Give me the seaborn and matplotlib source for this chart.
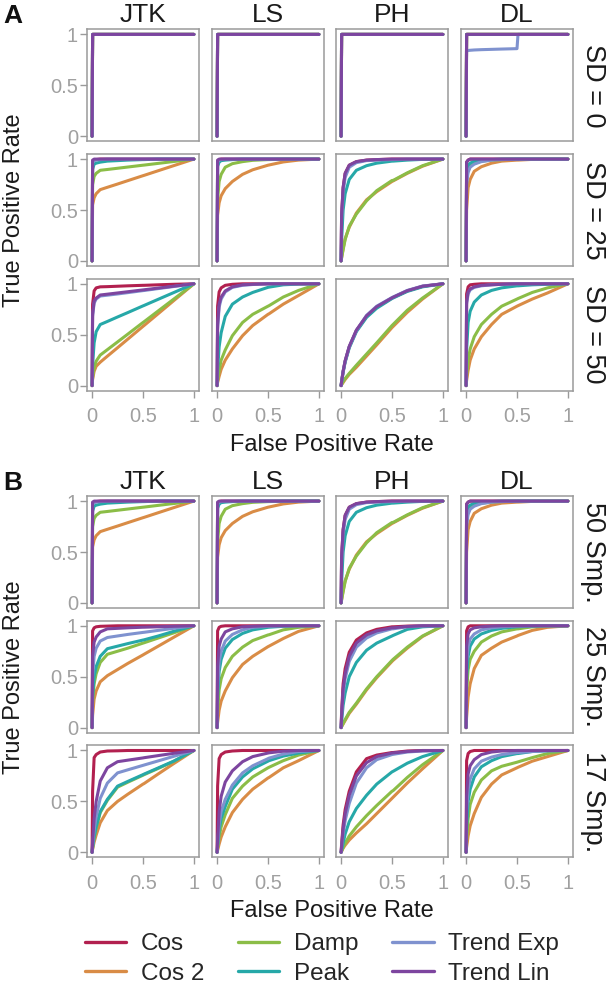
import numpy as np
import pandas as pd
import matplotlib
matplotlib.use('Agg')
import matplotlib.pyplot as plt
from matplotlib.lines import Line2D
import seaborn as sns

# methods (columns) and curve types (colours)
methods = ['JTK', 'LS', 'PH', 'DL']
series = ['Cos', 'Cos 2', 'Damp', 'Peak', 'Trend Exp', 'Trend Lin']
colors = ['#B2204F', '#D98C46', '#8BBD47', '#26A8A8', '#7F92CF', '#7D459F']

fpr = [0, 0.005, 0.02, 0.04, 0.08, 0.15, 0.25, 0.35, 0.5, 0.51, 0.65, 0.8, 1.0]
P = [0, 1, 1, 1, 1, 1, 1, 1, 1, 1, 1, 1, 1]  # perfect curve

# true positive rates, per method, in the order of `series`
tpr_sd0 = {
    'JTK': [P, P, P, P, P, P],
    'LS': [P, P, P, P, P, P],
    'PH': [P, P, P, P, P, P],
    'DL': [P, P, P, P,
           [0, 0.84, 0.842, 0.844, 0.847, 0.85, 0.853, 0.856, 0.86, 1, 1, 1, 1],
           P],
}

tpr_sd25 = {
    'JTK': [[0, 0.98, 0.99, 0.995, 1, 1, 1, 1, 1, 1, 1, 1, 1],
            [0, 0.55, 0.62, 0.66, 0.70, 0.723, 0.755, 0.788, 0.837, 0.84, 0.886, 0.935, 1],
            [0, 0.75, 0.83, 0.86, 0.89, 0.898, 0.91, 0.922, 0.94, 0.941, 0.958, 0.976, 1],
            [0, 0.9, 0.95, 0.96, 0.97, 0.98, 0.985, 0.99, 0.995, 0.995, 1, 1, 1],
            [0, 0.97, 0.985, 0.99, 0.995, 1, 1, 1, 1, 1, 1, 1, 1],
            [0, 0.99, 1, 1, 1, 1, 1, 1, 1, 1, 1, 1, 1]],
    'LS': [[0, 0.98, 0.995, 1, 1, 1, 1, 1, 1, 1, 1, 1, 1],
           [0, 0.45, 0.57, 0.64, 0.71, 0.78, 0.85, 0.895, 0.94, 0.942, 0.972, 0.99, 1],
           [0, 0.6, 0.78, 0.85, 0.92, 0.955, 0.975, 0.988, 0.995, 0.995, 1, 1, 1],
           [0, 0.93, 0.97, 0.985, 0.99, 0.995, 1, 1, 1, 1, 1, 1, 1],
           [0, 0.97, 0.99, 0.995, 1, 1, 1, 1, 1, 1, 1, 1, 1],
           [0, 0.99, 1, 1, 1, 1, 1, 1, 1, 1, 1, 1, 1]],
    'PH': [[0, 0.45, 0.72, 0.86, 0.94, 0.975, 0.99, 0.995, 1, 1, 1, 1, 1],
           [0, 0.03, 0.12, 0.22, 0.33, 0.47, 0.6, 0.68, 0.78, 0.785, 0.86, 0.93, 1],
           [0, 0.03, 0.11, 0.21, 0.34, 0.46, 0.59, 0.69, 0.79, 0.79, 0.865, 0.935, 1],
           [0, 0.2, 0.5, 0.66, 0.8, 0.89, 0.935, 0.96, 0.98, 0.98, 0.99, 0.997, 1],
           [0, 0.4, 0.68, 0.82, 0.92, 0.965, 0.985, 0.99, 0.995, 0.995, 1, 1, 1],
           [0, 0.45, 0.72, 0.86, 0.94, 0.975, 0.99, 0.995, 1, 1, 1, 1, 1]],
    'DL': [[0, 0.97, 0.99, 1, 1, 1, 1, 1, 1, 1, 1, 1, 1],
           [0, 0.5, 0.72, 0.8, 0.88, 0.925, 0.96, 0.98, 0.99, 0.99, 0.997, 1, 1],
           [0, 0.8, 0.9, 0.93, 0.96, 0.98, 0.99, 0.995, 1, 1, 1, 1, 1],
           [0, 0.88, 0.94, 0.96, 0.98, 0.99, 0.995, 1, 1, 1, 1, 1, 1],
           [0, 0.75, 0.87, 0.92, 0.95, 0.975, 0.99, 0.995, 1, 1, 1, 1, 1],
           [0, 0.97, 0.99, 1, 1, 1, 1, 1, 1, 1, 1, 1, 1]],
}

tpr_sd50 = {
    'JTK': [[0, 0.8, 0.93, 0.96, 0.97, 0.972, 0.976, 0.98, 0.985, 0.985, 0.99, 0.995, 1],
            [0, 0.06, 0.14, 0.19, 0.23, 0.289, 0.372, 0.456, 0.582, 0.59, 0.707, 0.833, 1],
            [0, 0.08, 0.18, 0.24, 0.3, 0.353, 0.429, 0.505, 0.62, 0.627, 0.734, 0.848, 1],
            [0, 0.2, 0.42, 0.53, 0.6, 0.63, 0.674, 0.717, 0.783, 0.787, 0.848, 0.913, 1],
            [0, 0.68, 0.81, 0.85, 0.88, 0.888, 0.9, 0.913, 0.933, 0.934, 0.953, 0.973, 1],
            [0, 0.7, 0.83, 0.86, 0.89, 0.898, 0.91, 0.922, 0.94, 0.941, 0.958, 0.976, 1]],
    'LS': [[0, 0.78, 0.92, 0.96, 0.985, 0.995, 1, 1, 1, 1, 1, 1, 1],
           [0, 0.03, 0.09, 0.16, 0.25, 0.36, 0.49, 0.59, 0.7, 0.705, 0.8, 0.885, 1],
           [0, 0.05, 0.15, 0.25, 0.35, 0.49, 0.62, 0.7, 0.78, 0.785, 0.87, 0.935, 1],
           [0, 0.15, 0.38, 0.52, 0.68, 0.8, 0.87, 0.915, 0.965, 0.967, 0.99, 0.997, 1],
           [0, 0.55, 0.77, 0.85, 0.92, 0.965, 0.985, 0.993, 1, 1, 1, 1, 1],
           [0, 0.6, 0.8, 0.87, 0.93, 0.97, 0.99, 0.995, 1, 1, 1, 1, 1]],
    'PH': [[0, 0.04, 0.14, 0.24, 0.38, 0.54, 0.68, 0.77, 0.86, 0.865, 0.93, 0.975, 1],
           [0, 0.01, 0.03, 0.06, 0.11, 0.18, 0.29, 0.4, 0.57, 0.58, 0.72, 0.85, 1],
           [0, 0.01, 0.04, 0.07, 0.12, 0.2, 0.31, 0.42, 0.59, 0.6, 0.74, 0.86, 1],
           [0, 0.035, 0.13, 0.23, 0.37, 0.53, 0.67, 0.76, 0.855, 0.86, 0.925, 0.97, 1],
           [0, 0.04, 0.14, 0.24, 0.38, 0.54, 0.69, 0.78, 0.865, 0.87, 0.935, 0.978, 1],
           [0, 0.04, 0.14, 0.245, 0.385, 0.545, 0.685, 0.775, 0.862, 0.867, 0.932, 0.976, 1]],
    'DL': [[0, 0.9, 0.97, 0.99, 0.995, 1, 1, 1, 1, 1, 1, 1, 1],
           [0, 0.05, 0.15, 0.25, 0.36, 0.48, 0.6, 0.7, 0.78, 0.785, 0.85, 0.91, 1],
           [0, 0.1, 0.25, 0.36, 0.48, 0.6, 0.7, 0.78, 0.85, 0.855, 0.915, 0.96, 1],
           [0, 0.35, 0.62, 0.73, 0.82, 0.89, 0.935, 0.96, 0.98, 0.98, 0.99, 0.995, 1],
           [0, 0.8, 0.9, 0.94, 0.965, 0.98, 0.99, 0.995, 1, 1, 1, 1, 1],
           [0, 0.82, 0.92, 0.95, 0.97, 0.985, 0.99, 0.995, 1, 1, 1, 1, 1]],
}

# 50 samples looks the same as SD = 25 in the figure
tpr_smp50 = tpr_sd25

tpr_smp25 = {
    'JTK': [[0, 0.95, 0.98, 0.99, 0.995, 0.997, 1, 1, 1, 1, 1, 1, 1],
            [0, 0.12, 0.28, 0.36, 0.45, 0.51, 0.57, 0.63, 0.714, 0.72, 0.8, 0.886, 1],
            [0, 0.25, 0.43, 0.53, 0.64, 0.72, 0.75, 0.78, 0.83, 0.833, 0.88, 0.93, 1],
            [0, 0.3, 0.5, 0.6, 0.7, 0.775, 0.8, 0.825, 0.86, 0.862, 0.9, 0.945, 1],
            [0, 0.5, 0.7, 0.78, 0.85, 0.885, 0.9, 0.915, 0.935, 0.936, 0.955, 0.975, 1],
            [0, 0.7, 0.84, 0.89, 0.94, 0.97, 0.975, 0.98, 0.986, 0.986, 0.99, 0.995, 1]],
    'LS': [[0, 0.95, 0.985, 0.995, 1, 1, 1, 1, 1, 1, 1, 1, 1],
           [0, 0.05, 0.17, 0.26, 0.36, 0.49, 0.62, 0.7, 0.795, 0.8, 0.875, 0.945, 1],
           [0, 0.15, 0.37, 0.48, 0.59, 0.7, 0.79, 0.855, 0.91, 0.912, 0.96, 0.985, 1],
           [0, 0.3, 0.55, 0.67, 0.78, 0.865, 0.925, 0.96, 0.985, 0.986, 0.995, 1, 1],
           [0, 0.4, 0.65, 0.75, 0.85, 0.915, 0.96, 0.985, 0.995, 0.995, 1, 1, 1],
           [0, 0.6, 0.8, 0.87, 0.94, 0.97, 0.99, 0.995, 1, 1, 1, 1, 1]],
    'PH': [[0, 0.15, 0.43, 0.58, 0.74, 0.86, 0.93, 0.965, 0.99, 0.99, 0.997, 1, 1],
           [0, 0.01, 0.035, 0.07, 0.14, 0.23, 0.37, 0.49, 0.65, 0.66, 0.78, 0.895, 1],
           [0, 0.01, 0.04, 0.08, 0.15, 0.24, 0.38, 0.5, 0.66, 0.67, 0.79, 0.9, 1],
           [0, 0.06, 0.22, 0.34, 0.5, 0.64, 0.76, 0.83, 0.9, 0.905, 0.965, 0.99, 1],
           [0, 0.1, 0.33, 0.48, 0.65, 0.79, 0.88, 0.93, 0.97, 0.97, 0.99, 0.998, 1],
           [0, 0.12, 0.38, 0.53, 0.7, 0.83, 0.91, 0.95, 0.98, 0.98, 0.993, 1, 1]],
    'DL': [[0, 0.95, 0.99, 1, 1, 1, 1, 1, 1, 1, 1, 1, 1],
           [0, 0.1, 0.3, 0.43, 0.58, 0.71, 0.78, 0.84, 0.9, 0.905, 0.955, 0.985, 1],
           [0, 0.35, 0.57, 0.67, 0.75, 0.84, 0.9, 0.94, 0.97, 0.97, 0.99, 0.997, 1],
           [0, 0.5, 0.7, 0.8, 0.87, 0.92, 0.955, 0.975, 0.99, 0.99, 0.997, 1, 1],
           [0, 0.65, 0.8, 0.87, 0.92, 0.96, 0.98, 0.99, 0.997, 0.997, 1, 1, 1],
           [0, 0.8, 0.92, 0.96, 0.98, 0.99, 0.997, 1, 1, 1, 1, 1, 1]],
}

tpr_smp17 = {
    'JTK': [[0, 0.6, 0.93, 0.96, 0.985, 0.995, 0.997, 1, 1, 1, 1, 1, 1],
            [0, 0.03, 0.1, 0.17, 0.29, 0.41, 0.5, 0.57, 0.67, 0.675, 0.77, 0.87, 1],
            [0, 0.04, 0.14, 0.24, 0.39, 0.51, 0.64, 0.688, 0.757, 0.762, 0.824, 0.892, 1],
            [0, 0.05, 0.15, 0.25, 0.4, 0.52, 0.65, 0.696, 0.763, 0.768, 0.829, 0.895, 1],
            [0, 0.07, 0.22, 0.35, 0.53, 0.68, 0.78, 0.81, 0.854, 0.857, 0.898, 0.942, 1],
            [0, 0.1, 0.33, 0.5, 0.7, 0.83, 0.89, 0.905, 0.927, 0.929, 0.95, 0.972, 1]],
    'LS': [[0, 0.65, 0.92, 0.96, 0.985, 0.995, 1, 1, 1, 1, 1, 1, 1],
           [0, 0.02, 0.08, 0.15, 0.25, 0.39, 0.52, 0.62, 0.73, 0.735, 0.83, 0.9, 1],
           [0, 0.04, 0.15, 0.25, 0.37, 0.53, 0.65, 0.74, 0.83, 0.835, 0.9, 0.955, 1],
           [0, 0.06, 0.22, 0.33, 0.45, 0.62, 0.74, 0.82, 0.895, 0.9, 0.945, 0.975, 1],
           [0, 0.08, 0.28, 0.4, 0.52, 0.66, 0.78, 0.85, 0.92, 0.925, 0.965, 0.99, 1],
           [0, 0.12, 0.4, 0.55, 0.69, 0.8, 0.89, 0.94, 0.975, 0.977, 0.993, 1, 1]],
    'PH': [[0, 0.08, 0.27, 0.42, 0.6, 0.79, 0.92, 0.955, 0.98, 0.98, 0.995, 1, 1],
           [0, 0.01, 0.04, 0.07, 0.12, 0.19, 0.28, 0.38, 0.53, 0.54, 0.68, 0.82, 1],
           [0, 0.01, 0.05, 0.09, 0.16, 0.25, 0.36, 0.46, 0.6, 0.605, 0.735, 0.86, 1],
           [0, 0.02, 0.09, 0.18, 0.3, 0.43, 0.56, 0.67, 0.79, 0.795, 0.875, 0.94, 1],
           [0, 0.05, 0.18, 0.31, 0.48, 0.68, 0.83, 0.91, 0.96, 0.962, 0.985, 0.995, 1],
           [0, 0.06, 0.23, 0.38, 0.56, 0.75, 0.88, 0.94, 0.975, 0.976, 0.99, 0.998, 1]],
    'DL': [[0, 0.9, 0.97, 0.99, 1, 1, 1, 1, 1, 1, 1, 1, 1],
           [0, 0.05, 0.16, 0.26, 0.38, 0.54, 0.67, 0.76, 0.83, 0.835, 0.895, 0.94, 1],
           [0, 0.12, 0.33, 0.47, 0.59, 0.71, 0.8, 0.845, 0.885, 0.888, 0.93, 0.97, 1],
           [0, 0.25, 0.5, 0.62, 0.74, 0.84, 0.9, 0.94, 0.97, 0.97, 0.99, 0.997, 1],
           [0, 0.4, 0.62, 0.72, 0.82, 0.895, 0.935, 0.96, 0.98, 0.98, 0.99, 0.997, 1],
           [0, 0.55, 0.77, 0.85, 0.91, 0.96, 0.985, 0.995, 1, 1, 1, 1, 1]],
}

blocks = [
    ('A', [('SD = 0', tpr_sd0), ('SD = 25', tpr_sd25), ('SD = 50', tpr_sd50)]),
    ('B', [('50 Smp.', tpr_smp50), ('25 Smp.', tpr_smp25), ('17 Smp.', tpr_smp17)]),
]

sns.set_theme(style='white')
plt.rcParams['font.family'] = ['Liberation Sans', 'DejaVu Sans']

W, H = 607, 984
fig = plt.figure(figsize=(W / 100, H / 100), dpi=100)

grey = '#9a9a9a'
col_left = [87, 212, 336, 461]
block_top = [29.3, 496]
size = 112
step = 124.7
palette = dict(zip(series, colors))

for b, (letter, rows) in enumerate(blocks):
    top0 = block_top[b]
    fig.text(3 / W, 1 - (top0 - 13) / H, letter, fontsize=19, fontweight='bold',
             ha='left', va='center', color='#111111')
    for j, m in enumerate(methods):
        fig.text((col_left[j] + size / 2) / W, 1 - (top0 - 14) / H, m,
                 fontsize=19, ha='center', va='center', color='#1a1a1a')
    for i, (row_name, table) in enumerate(rows):
        top = top0 + i * step
        for j, m in enumerate(methods):
            ax = fig.add_axes([col_left[j] / W, 1 - (top + size) / H, size / W, size / H])
            frames = []
            for s, vals in zip(series, table[m]):
                frames.append(pd.DataFrame({'fpr': fpr, 'tpr': vals, 'series': s}))
            df = pd.concat(frames, ignore_index=True)
            sns.lineplot(data=df, x='fpr', y='tpr', hue='series', hue_order=series,
                         palette=palette, estimator=None, sort=False, linewidth=2.2,
                         legend=False, ax=ax)
            ax.set_xlim(-0.05, 1.05)
            ax.set_ylim(-0.05, 1.05)
            ax.set_xlabel('')
            ax.set_ylabel('')
            for sp in ax.spines.values():
                sp.set_color(grey)
                sp.set_linewidth(1.1)
            ax.set_xticks([0, 0.5, 1])
            ax.set_yticks([0, 0.5, 1])
            ax.set_xticklabels(['0', '0.5', '1'])
            ax.set_yticklabels(['0', '0.5', '1'])
            ax.tick_params(axis='both', length=5, width=1, color=grey,
                           labelcolor='#a0a0a0', labelsize=14.5)
            ax.tick_params(axis='y', pad=1.5, left=(j == 0), labelleft=(j == 0))
            ax.tick_params(axis='x', pad=7, bottom=(i == 2), labelbottom=(i == 2))
        fig.text(593 / W, 1 - (top + size / 2) / H, row_name, fontsize=19.5,
                 rotation=270, ha='center', va='center', color='#1a1a1a')
    mid = top0 + (2 * step + size) / 2
    fig.text(14 / W, 1 - mid / H, 'True Positive Rate', fontsize=17, rotation=90,
             ha='center', va='center', color='#1a1a1a')
    fig.text(332 / W, 1 - (top0 + 2 * step + size + 54) / H, 'False Positive Rate',
             fontsize=17, ha='center', va='center', color='#1a1a1a')

handles = [Line2D([0], [0], color=c, lw=2.4) for c in colors]
fig.legend(handles, series, ncol=3, loc='center', bbox_to_anchor=(322 / W, 1 - 959 / H),
           frameon=False, fontsize=17.5, handlelength=1.7, handletextpad=0.6,
           columnspacing=1.4, labelspacing=0.3, borderpad=0)

fig.savefig('out.png', dpi=100)
